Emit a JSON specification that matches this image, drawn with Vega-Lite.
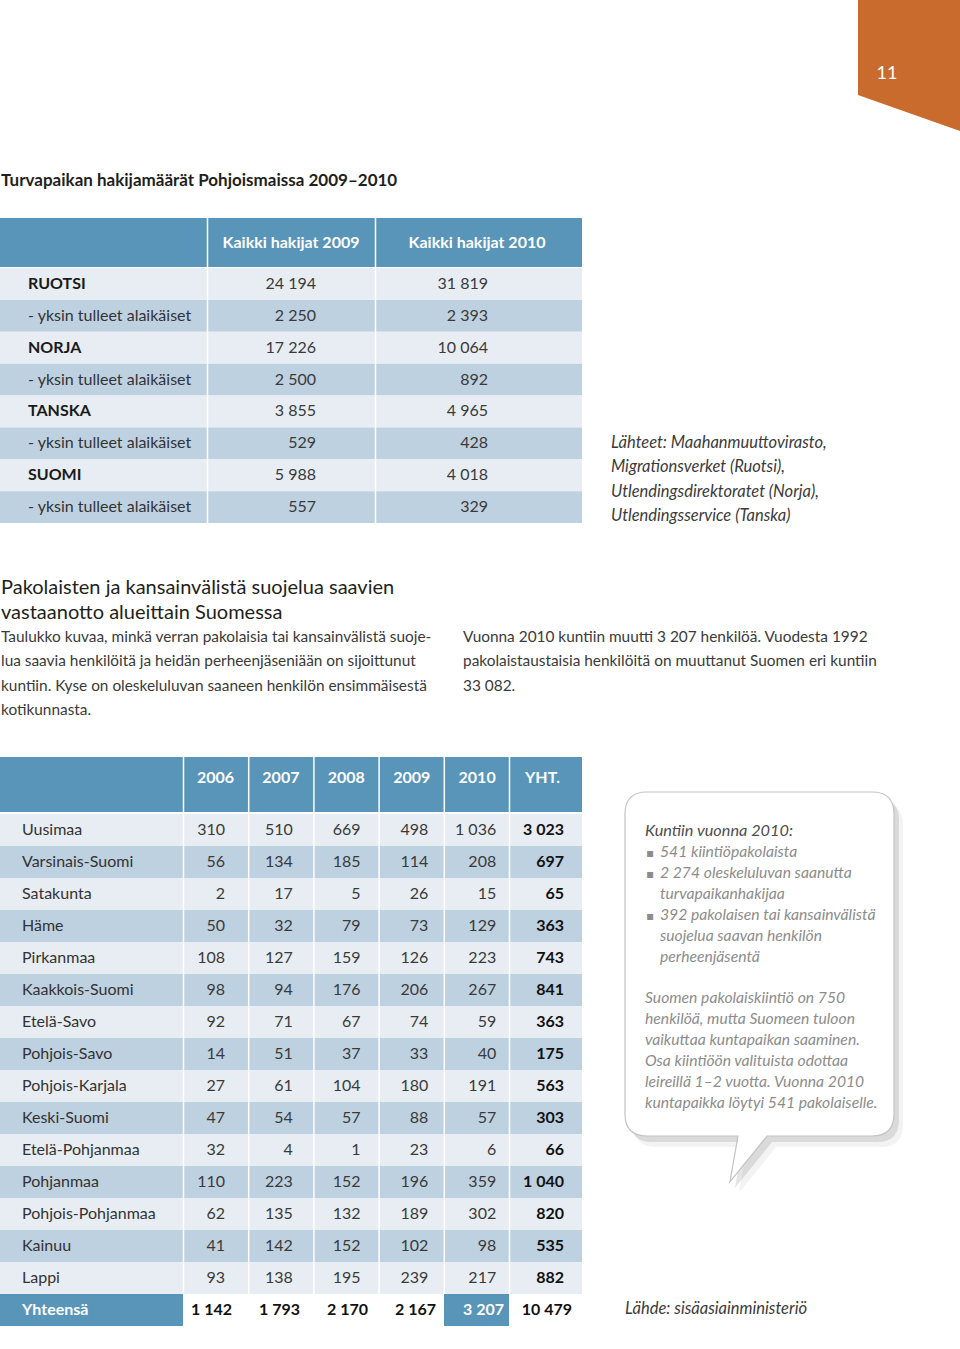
{
"$schema": "https://vega.github.io/schema/vega-lite/v6.json",
"width": 960, "height": 1349,
"autosize": {"type": "none"},
"padding": 0,
"background": "white",
"config": {"view": {"stroke": null}, "locale": {"number": {"decimal": ",", "thousands": " ", "grouping": [3], "currency": ["", " €"]}}},
"datasets": {
"sivu": [{"sivu": "11"}],
"taulukot": [{"taulukko": "Turvapaikan hakijat"}, {"taulukko": "Kuntiin muuttaneet"}],
"kupla": [{"osa": "kupla"}],
"tekstit": [
{"lohko": "otsikko", "teksti": "Turvapaikan hakijamäärät Pohjoismaissa 2009–2010"},
{"lohko": "lahteet", "teksti": "Lähteet: Maahanmuuttovirasto,\nMigrationsverket (Ruotsi),\nUtlendingsdirektoratet (Norja),\nUtlendingsservice (Tanska)"},
{"lohko": "valiotsikko", "teksti": "Pakolaisten ja kansainvälistä suojelua saavien\nvastaanotto alueittain Suomessa"},
{"lohko": "ingressi1", "teksti": "Taulukko kuvaa, minkä verran pakolaisia tai kansainvälistä suoje-\nlua saavia henkilöitä ja heidän perheenjäseniään on sijoittunut\nkuntiin. Kyse on oleskeluluvan saaneen henkilön ensimmäisestä\nkotikunnasta."},
{"lohko": "ingressi2", "teksti": "Vuonna 2010 kuntiin muutti 3 207 henkilöä. Vuodesta 1992\npakolaistaustaisia henkilöitä on muuttanut Suomen eri kuntiin\n33 082."},
{"lohko": "kupla_otsikko", "teksti": "Kuntiin vuonna 2010:"},
{"lohko": "kupla_merkit1", "teksti": "▪\n▪"},
{"lohko": "kupla_merkit2", "teksti": "▪"},
{"lohko": "kupla_lista", "teksti": "541 kiintiöpakolaista\n2 274 oleskeluluvan saanutta\nturvapaikanhakijaa\n392 pakolaisen tai kansainvälistä\nsuojelua saavan henkilön\n\u00a0perheenjäsentä"},
{"lohko": "kupla_teksti", "teksti": "Suomen pakolaiskiintiö on 750\nhenkilöä, mutta Suomeen tuloon\nvaikuttaa kuntapaikan saaminen.\nOsa kiintiöön valituista odottaa\nleireillä 1–2 vuotta. Vuonna 2010\nkuntapaikka löytyi 541 pakolaiselle."},
{"lohko": "lahde", "teksti": "Lähde: sisäasiainministeriö"}
],
"otsikot1": [{"vuosi": "2009", "otsikko": "Kaikki hakijat 2009"}, {"vuosi": "2010", "otsikko": "Kaikki hakijat 2010"}],
"taulukko1": [
{"rivi": "RUOTSI", "nimi": "RUOTSI", "ryhma": "kaikki", "2009": 24194, "2010": 31819},
{"rivi": "RUOTSI, yksin tulleet alaikäiset", "nimi": "- yksin tulleet alaikäiset", "ryhma": "alaikäiset", "2009": 2250, "2010": 2393},
{"rivi": "NORJA", "nimi": "NORJA", "ryhma": "kaikki", "2009": 17226, "2010": 10064},
{"rivi": "NORJA, yksin tulleet alaikäiset", "nimi": "- yksin tulleet alaikäiset", "ryhma": "alaikäiset", "2009": 2500, "2010": 892},
{"rivi": "TANSKA", "nimi": "TANSKA", "ryhma": "kaikki", "2009": 3855, "2010": 4965},
{"rivi": "TANSKA, yksin tulleet alaikäiset", "nimi": "- yksin tulleet alaikäiset", "ryhma": "alaikäiset", "2009": 529, "2010": 428},
{"rivi": "SUOMI", "nimi": "SUOMI", "ryhma": "kaikki", "2009": 5988, "2010": 4018},
{"rivi": "SUOMI, yksin tulleet alaikäiset", "nimi": "- yksin tulleet alaikäiset", "ryhma": "alaikäiset", "2009": 557, "2010": 329}
],
"sarakkeet2": [{"sarake": "2006", "otsikko": "2006"}, {"sarake": "2007", "otsikko": "2007"}, {"sarake": "2008", "otsikko": "2008"}, {"sarake": "2009", "otsikko": "2009"}, {"sarake": "2010", "otsikko": "2010"}, {"sarake": "YHT", "otsikko": "YHT."}],
"taulukko2": [
{"alue": "Uusimaa", "2006": 310, "2007": 510, "2008": 669, "2009": 498, "2010": 1036, "YHT": 3023},
{"alue": "Varsinais-Suomi", "2006": 56, "2007": 134, "2008": 185, "2009": 114, "2010": 208, "YHT": 697},
{"alue": "Satakunta", "2006": 2, "2007": 17, "2008": 5, "2009": 26, "2010": 15, "YHT": 65},
{"alue": "Häme", "2006": 50, "2007": 32, "2008": 79, "2009": 73, "2010": 129, "YHT": 363},
{"alue": "Pirkanmaa", "2006": 108, "2007": 127, "2008": 159, "2009": 126, "2010": 223, "YHT": 743},
{"alue": "Kaakkois-Suomi", "2006": 98, "2007": 94, "2008": 176, "2009": 206, "2010": 267, "YHT": 841},
{"alue": "Etelä-Savo", "2006": 92, "2007": 71, "2008": 67, "2009": 74, "2010": 59, "YHT": 363},
{"alue": "Pohjois-Savo", "2006": 14, "2007": 51, "2008": 37, "2009": 33, "2010": 40, "YHT": 175},
{"alue": "Pohjois-Karjala", "2006": 27, "2007": 61, "2008": 104, "2009": 180, "2010": 191, "YHT": 563},
{"alue": "Keski-Suomi", "2006": 47, "2007": 54, "2008": 57, "2009": 88, "2010": 57, "YHT": 303},
{"alue": "Etelä-Pohjanmaa", "2006": 32, "2007": 4, "2008": 1, "2009": 23, "2010": 6, "YHT": 66},
{"alue": "Pohjanmaa", "2006": 110, "2007": 223, "2008": 152, "2009": 196, "2010": 359, "YHT": 1040},
{"alue": "Pohjois-Pohjanmaa", "2006": 62, "2007": 135, "2008": 132, "2009": 189, "2010": 302, "YHT": 820},
{"alue": "Kainuu", "2006": 41, "2007": 142, "2008": 152, "2009": 102, "2010": 98, "YHT": 535},
{"alue": "Lappi", "2006": 93, "2007": 138, "2008": 195, "2009": 239, "2010": 217, "YHT": 882},
{"alue": "Yhteensä", "2006": 1142, "2007": 1793, "2008": 2170, "2009": 2167, "2010": 3207, "YHT": 10479}
]
},
"layer": [
{"data": {"name": "sivu"}, "mark": {"type": "point", "shape": "M-0.785,-1.1 L0.94,-1.1 L0.94,1.07 L-0.785,0.46 Z", "size": 16900, "filled": true, "opacity": 1, "color": "#c96b2c", "strokeWidth": 0},
 "encoding": {"x": {"field": "sivu", "type": "nominal", "scale": {"type": "point", "padding": 0, "range": [909, 909]}, "axis": null}, "y": {"field": "sivu", "type": "nominal", "scale": {"type": "point", "padding": 0, "range": [65, 65]}, "axis": null}}},
{"data": {"name": "sivu"}, "mark": {"type": "text", "font": "Lato", "fontSize": 18, "color": "white", "align": "center", "baseline": "alphabetic"},
 "encoding": {"x": {"field": "sivu", "type": "nominal", "scale": {"type": "point", "padding": 0, "range": [887, 887]}, "axis": null}, "y": {"field": "sivu", "type": "nominal", "scale": {"type": "point", "padding": 0, "range": [79, 79]}, "axis": null}, "text": {"field": "sivu"}}},

{"data": {"name": "tekstit"}, "transform": [{"filter": "datum.lohko === 'otsikko'"}], "mark": {"type": "text", "font": "Lato", "fontSize": 17, "fontWeight": "bold", "color": "#231f20", "align": "left", "baseline": "alphabetic"},
 "encoding": {"x": {"field": "lohko", "type": "nominal", "scale": {"type": "point", "padding": 0, "range": [1, 1]}, "axis": null}, "y": {"field": "lohko", "type": "nominal", "scale": {"type": "point", "padding": 0, "range": [186, 186]}, "axis": null}, "text": {"field": "teksti"}}},
{"data": {"name": "tekstit"}, "transform": [{"filter": "datum.lohko === 'lahteet'"}], "mark": {"type": "text", "font": "Lato", "fontSize": 16.5, "fontStyle": "italic", "color": "#3b3b3b", "align": "left", "baseline": "alphabetic", "lineBreak": "\n", "lineHeight": 24.4},
 "encoding": {"x": {"field": "lohko", "type": "nominal", "scale": {"type": "point", "padding": 0, "range": [611, 611]}, "axis": null}, "y": {"field": "lohko", "type": "nominal", "scale": {"type": "point", "padding": 0, "range": [448, 448]}, "axis": null}, "text": {"field": "teksti"}}},
{"data": {"name": "tekstit"}, "transform": [{"filter": "datum.lohko === 'valiotsikko'"}], "mark": {"type": "text", "font": "Lato", "fontSize": 20, "color": "#231f20", "align": "left", "baseline": "alphabetic", "lineBreak": "\n", "lineHeight": 24.5},
 "encoding": {"x": {"field": "lohko", "type": "nominal", "scale": {"type": "point", "padding": 0, "range": [1, 1]}, "axis": null}, "y": {"field": "lohko", "type": "nominal", "scale": {"type": "point", "padding": 0, "range": [594, 594]}, "axis": null}, "text": {"field": "teksti"}}},
{"data": {"name": "tekstit"}, "transform": [{"filter": "datum.lohko === 'ingressi1'"}], "mark": {"type": "text", "font": "Lato", "fontSize": 15.4, "color": "#3a3a3a", "align": "left", "baseline": "alphabetic", "lineBreak": "\n", "lineHeight": 24.4},
 "encoding": {"x": {"field": "lohko", "type": "nominal", "scale": {"type": "point", "padding": 0, "range": [1, 1]}, "axis": null}, "y": {"field": "lohko", "type": "nominal", "scale": {"type": "point", "padding": 0, "range": [642, 642]}, "axis": null}, "text": {"field": "teksti"}}},
{"data": {"name": "tekstit"}, "transform": [{"filter": "datum.lohko === 'ingressi2'"}], "mark": {"type": "text", "font": "Lato", "fontSize": 15.4, "color": "#3a3a3a", "align": "left", "baseline": "alphabetic", "lineBreak": "\n", "lineHeight": 24.4},
 "encoding": {"x": {"field": "lohko", "type": "nominal", "scale": {"type": "point", "padding": 0, "range": [463, 463]}, "axis": null}, "y": {"field": "lohko", "type": "nominal", "scale": {"type": "point", "padding": 0, "range": [642, 642]}, "axis": null}, "text": {"field": "teksti"}}},

{"data": {"name": "taulukot"}, "transform": [{"filter": "datum.taulukko === 'Turvapaikan hakijat'"}], "mark": {"type": "rect", "color": "#6b6b6b", "opacity": 0.07, "xOffset": 10, "yOffset": 12},
 "encoding": {"x": {"datum": 0, "type": "quantitative", "scale": {"domain": [0, 1], "range": [0, 582]}, "axis": null}, "x2": {"datum": 1}, "y": {"datum": 0, "type": "quantitative", "scale": {"domain": [0, 1], "range": [218, 523]}, "axis": null}, "y2": {"datum": 1}}},
{"data": {"name": "taulukot"}, "transform": [{"filter": "datum.taulukko === 'Turvapaikan hakijat'"}], "mark": {"type": "rect", "color": "#6b6b6b", "opacity": 0.14, "xOffset": 6, "yOffset": 8},
 "encoding": {"x": {"datum": 0, "type": "quantitative", "scale": {"domain": [0, 1], "range": [0, 582]}, "axis": null}, "x2": {"datum": 1}, "y": {"datum": 0, "type": "quantitative", "scale": {"domain": [0, 1], "range": [218, 523]}, "axis": null}, "y2": {"datum": 1}}},
{"data": {"name": "taulukot"}, "transform": [{"filter": "datum.taulukko === 'Turvapaikan hakijat'"}], "mark": {"type": "rect", "color": "#6b6b6b", "opacity": 0.22, "xOffset": 3, "yOffset": 4},
 "encoding": {"x": {"datum": 0, "type": "quantitative", "scale": {"domain": [0, 1], "range": [0, 582]}, "axis": null}, "x2": {"datum": 1}, "y": {"datum": 0, "type": "quantitative", "scale": {"domain": [0, 1], "range": [218, 523]}, "axis": null}, "y2": {"datum": 1}}},
{"data": {"name": "taulukot"}, "transform": [{"filter": "datum.taulukko === 'Turvapaikan hakijat'"}], "mark": {"type": "rect", "color": "white"},
 "encoding": {"x": {"datum": 0, "type": "quantitative", "scale": {"domain": [0, 1], "range": [0, 582]}, "axis": null}, "x2": {"datum": 1}, "y": {"datum": 0, "type": "quantitative", "scale": {"domain": [0, 1], "range": [218, 523]}, "axis": null}, "y2": {"datum": 1}}},
{"data": {"name": "taulukot"}, "transform": [{"filter": "datum.taulukko === 'Turvapaikan hakijat'"}], "mark": {"type": "rect", "color": "#5895b9"},
 "encoding": {"x": {"datum": 0, "type": "quantitative", "scale": {"domain": [0, 1], "range": [0, 582]}, "axis": null}, "x2": {"datum": 1}, "y": {"datum": 0, "type": "quantitative", "scale": {"domain": [0, 1], "range": [218, 267]}, "axis": null}, "y2": {"datum": 1}}},
{"data": {"name": "taulukko1"}, "mark": {"type": "rect"},
 "encoding": {"x": {"datum": 0, "type": "quantitative", "scale": {"domain": [0, 1], "range": [0, 582]}, "axis": null}, "x2": {"datum": 1},
  "y": {"field": "rivi", "type": "nominal", "scale": {"type": "band", "domain": ["RUOTSI", "RUOTSI, yksin tulleet alaikäiset", "NORJA", "NORJA, yksin tulleet alaikäiset", "TANSKA", "TANSKA, yksin tulleet alaikäiset", "SUOMI", "SUOMI, yksin tulleet alaikäiset"], "range": [268, 523], "paddingInner": 0, "paddingOuter": 0}, "axis": null},
  "color": {"field": "ryhma", "type": "nominal", "scale": {"domain": ["kaikki", "alaikäiset"], "range": ["#e7edf3", "#bed1e1"]}, "legend": null}}},
{"data": {"name": "otsikot1"}, "mark": {"type": "rule", "color": "white", "strokeWidth": 1.5},
 "encoding": {"x": {"field": "vuosi", "type": "nominal", "scale": {"type": "point", "padding": 0, "domain": ["2009", "2010"], "range": [207.5, 375.5]}, "axis": null},
  "y": {"datum": 0, "type": "quantitative", "scale": {"domain": [0, 1], "range": [218, 523]}, "axis": null}, "y2": {"datum": 1}}},
{"data": {"name": "otsikot1"}, "mark": {"type": "text", "font": "Lato", "fontSize": 16, "fontWeight": "bold", "color": "white", "align": "center", "baseline": "alphabetic"},
 "encoding": {"x": {"field": "vuosi", "type": "nominal", "scale": {"type": "point", "padding": 0, "domain": ["2009", "2010"], "range": [291, 477]}, "axis": null},
  "y": {"field": "vuosi", "type": "nominal", "scale": {"type": "point", "padding": 0, "range": [248, 248]}, "axis": null}, "text": {"field": "otsikko"}}},
{"data": {"name": "taulukko1"}, "transform": [{"filter": "datum.ryhma === 'kaikki'"}], "mark": {"type": "text", "font": "Lato", "fontSize": 16, "fontWeight": "bold", "color": "#1a1a1a", "align": "left", "baseline": "middle"},
 "encoding": {"x": {"field": "ryhma", "type": "nominal", "scale": {"type": "point", "padding": 0, "range": [28, 28]}, "axis": null},
  "y": {"field": "rivi", "type": "nominal", "scale": {"type": "band", "domain": ["RUOTSI", "RUOTSI, yksin tulleet alaikäiset", "NORJA", "NORJA, yksin tulleet alaikäiset", "TANSKA", "TANSKA, yksin tulleet alaikäiset", "SUOMI", "SUOMI, yksin tulleet alaikäiset"], "range": [268, 523], "paddingInner": 0, "paddingOuter": 0}, "axis": null},
  "text": {"field": "nimi"}}},
{"data": {"name": "taulukko1"}, "transform": [{"filter": "datum.ryhma === 'alaikäiset'"}], "mark": {"type": "text", "font": "Lato", "fontSize": 16, "color": "#333333", "align": "left", "baseline": "middle"},
 "encoding": {"x": {"field": "ryhma", "type": "nominal", "scale": {"type": "point", "padding": 0, "range": [28, 28]}, "axis": null},
  "y": {"field": "rivi", "type": "nominal", "scale": {"type": "band", "domain": ["RUOTSI", "RUOTSI, yksin tulleet alaikäiset", "NORJA", "NORJA, yksin tulleet alaikäiset", "TANSKA", "TANSKA, yksin tulleet alaikäiset", "SUOMI", "SUOMI, yksin tulleet alaikäiset"], "range": [268, 523], "paddingInner": 0, "paddingOuter": 0}, "axis": null},
  "text": {"field": "nimi"}}},
{"data": {"name": "taulukko1"}, "transform": [{"fold": ["2009", "2010"], "as": ["vuosi", "hakijat"]}], "mark": {"type": "text", "font": "Lato", "fontSize": 16, "color": "#3a3a3a", "align": "right", "baseline": "middle"},
 "encoding": {"x": {"field": "vuosi", "type": "nominal", "scale": {"type": "point", "padding": 0, "domain": ["2009", "2010"], "range": [316, 488]}, "axis": null},
  "y": {"field": "rivi", "type": "nominal", "scale": {"type": "band", "domain": ["RUOTSI", "RUOTSI, yksin tulleet alaikäiset", "NORJA", "NORJA, yksin tulleet alaikäiset", "TANSKA", "TANSKA, yksin tulleet alaikäiset", "SUOMI", "SUOMI, yksin tulleet alaikäiset"], "range": [268, 523], "paddingInner": 0, "paddingOuter": 0}, "axis": null},
  "text": {"field": "hakijat", "type": "quantitative", "format": ",d"}}},

{"data": {"name": "taulukot"}, "transform": [{"filter": "datum.taulukko === 'Kuntiin muuttaneet'"}], "mark": {"type": "rect", "color": "#6b6b6b", "opacity": 0.07, "xOffset": 10, "yOffset": 12},
 "encoding": {"x": {"datum": 0, "type": "quantitative", "scale": {"domain": [0, 1], "range": [0, 582]}, "axis": null}, "x2": {"datum": 1}, "y": {"datum": 0, "type": "quantitative", "scale": {"domain": [0, 1], "range": [757, 1326]}, "axis": null}, "y2": {"datum": 1}}},
{"data": {"name": "taulukot"}, "transform": [{"filter": "datum.taulukko === 'Kuntiin muuttaneet'"}], "mark": {"type": "rect", "color": "#6b6b6b", "opacity": 0.14, "xOffset": 6, "yOffset": 8},
 "encoding": {"x": {"datum": 0, "type": "quantitative", "scale": {"domain": [0, 1], "range": [0, 582]}, "axis": null}, "x2": {"datum": 1}, "y": {"datum": 0, "type": "quantitative", "scale": {"domain": [0, 1], "range": [757, 1326]}, "axis": null}, "y2": {"datum": 1}}},
{"data": {"name": "taulukot"}, "transform": [{"filter": "datum.taulukko === 'Kuntiin muuttaneet'"}], "mark": {"type": "rect", "color": "#6b6b6b", "opacity": 0.22, "xOffset": 3, "yOffset": 4},
 "encoding": {"x": {"datum": 0, "type": "quantitative", "scale": {"domain": [0, 1], "range": [0, 582]}, "axis": null}, "x2": {"datum": 1}, "y": {"datum": 0, "type": "quantitative", "scale": {"domain": [0, 1], "range": [757, 1326]}, "axis": null}, "y2": {"datum": 1}}},
{"data": {"name": "taulukot"}, "transform": [{"filter": "datum.taulukko === 'Kuntiin muuttaneet'"}], "mark": {"type": "rect", "color": "white"},
 "encoding": {"x": {"datum": 0, "type": "quantitative", "scale": {"domain": [0, 1], "range": [0, 582]}, "axis": null}, "x2": {"datum": 1}, "y": {"datum": 0, "type": "quantitative", "scale": {"domain": [0, 1], "range": [757, 1326]}, "axis": null}, "y2": {"datum": 1}}},
{"data": {"name": "taulukot"}, "transform": [{"filter": "datum.taulukko === 'Kuntiin muuttaneet'"}], "mark": {"type": "rect", "color": "#5895b9"},
 "encoding": {"x": {"datum": 0, "type": "quantitative", "scale": {"domain": [0, 1], "range": [0, 582]}, "axis": null}, "x2": {"datum": 1}, "y": {"datum": 0, "type": "quantitative", "scale": {"domain": [0, 1], "range": [757, 812]}, "axis": null}, "y2": {"datum": 1}}},
{"data": {"name": "taulukko2"}, "transform": [{"filter": "datum.alue !== 'Yhteensä'"}], "mark": {"type": "rect"},
 "encoding": {"x": {"datum": 0, "type": "quantitative", "scale": {"domain": [0, 1], "range": [0, 582]}, "axis": null}, "x2": {"datum": 1},
  "y": {"field": "alue", "type": "nominal", "scale": {"type": "band", "domain": ["Uusimaa", "Varsinais-Suomi", "Satakunta", "Häme", "Pirkanmaa", "Kaakkois-Suomi", "Etelä-Savo", "Pohjois-Savo", "Pohjois-Karjala", "Keski-Suomi", "Etelä-Pohjanmaa", "Pohjanmaa", "Pohjois-Pohjanmaa", "Kainuu", "Lappi", "Yhteensä"], "range": [814, 1326], "paddingInner": 0, "paddingOuter": 0}, "axis": null},
  "color": {"field": "alue", "type": "nominal", "scale": {"domain": ["Uusimaa", "Varsinais-Suomi", "Satakunta", "Häme", "Pirkanmaa", "Kaakkois-Suomi", "Etelä-Savo", "Pohjois-Savo", "Pohjois-Karjala", "Keski-Suomi", "Etelä-Pohjanmaa", "Pohjanmaa", "Pohjois-Pohjanmaa", "Kainuu", "Lappi"], "range": ["#e7edf3", "#bed1e1", "#e7edf3", "#bed1e1", "#e7edf3", "#bed1e1", "#e7edf3", "#bed1e1", "#e7edf3", "#bed1e1", "#e7edf3", "#bed1e1", "#e7edf3", "#bed1e1", "#e7edf3"]}, "legend": null}}},
{"data": {"name": "taulukko2"}, "transform": [{"filter": "datum.alue === 'Yhteensä'"}], "mark": {"type": "rect", "color": "#5895b9"},
 "encoding": {"x": {"field": "alue", "type": "nominal", "scale": {"type": "band", "paddingInner": 0, "paddingOuter": 0, "range": [0, 183]}, "axis": null},
  "y": {"field": "alue", "type": "nominal", "scale": {"type": "band", "domain": ["Uusimaa", "Varsinais-Suomi", "Satakunta", "Häme", "Pirkanmaa", "Kaakkois-Suomi", "Etelä-Savo", "Pohjois-Savo", "Pohjois-Karjala", "Keski-Suomi", "Etelä-Pohjanmaa", "Pohjanmaa", "Pohjois-Pohjanmaa", "Kainuu", "Lappi", "Yhteensä"], "range": [814, 1326], "paddingInner": 0, "paddingOuter": 0}, "axis": null}}},
{"data": {"name": "taulukko2"}, "transform": [{"filter": "datum.alue === 'Yhteensä'"}, {"fold": ["2010"], "as": ["vuosi", "muuttaneet"]}], "mark": {"type": "rect", "color": "#5895b9"},
 "encoding": {"x": {"field": "vuosi", "type": "nominal", "scale": {"type": "band", "paddingInner": 0, "paddingOuter": 0, "domain": ["2010"], "range": [444, 509]}, "axis": null},
  "y": {"field": "alue", "type": "nominal", "scale": {"type": "band", "domain": ["Uusimaa", "Varsinais-Suomi", "Satakunta", "Häme", "Pirkanmaa", "Kaakkois-Suomi", "Etelä-Savo", "Pohjois-Savo", "Pohjois-Karjala", "Keski-Suomi", "Etelä-Pohjanmaa", "Pohjanmaa", "Pohjois-Pohjanmaa", "Kainuu", "Lappi", "Yhteensä"], "range": [814, 1326], "paddingInner": 0, "paddingOuter": 0}, "axis": null}}},
{"data": {"name": "sarakkeet2"}, "mark": {"type": "rule", "color": "white", "strokeWidth": 1.5},
 "encoding": {"x": {"field": "sarake", "type": "nominal", "scale": {"type": "point", "padding": 0, "domain": ["2006", "2007", "2008", "2009", "2010", "YHT"], "range": [183.5, 509.5]}, "axis": null},
  "y": {"datum": 0, "type": "quantitative", "scale": {"domain": [0, 1], "range": [757, 1294]}, "axis": null}, "y2": {"datum": 1}}},
{"data": {"name": "sarakkeet2"}, "mark": {"type": "text", "font": "Lato", "fontSize": 16, "fontWeight": "bold", "color": "white", "align": "center", "baseline": "alphabetic"},
 "encoding": {"x": {"field": "sarake", "type": "nominal", "scale": {"type": "point", "padding": 0, "domain": ["2006", "2007", "2008", "2009", "2010", "YHT"], "range": [215.5, 542.5]}, "axis": null},
  "y": {"field": "sarake", "type": "nominal", "scale": {"type": "point", "padding": 0, "range": [783, 783]}, "axis": null}, "text": {"field": "otsikko"}}},
{"data": {"name": "taulukko2"}, "transform": [{"filter": "datum.alue !== 'Yhteensä'"}], "mark": {"type": "text", "font": "Lato", "fontSize": 16, "color": "#333333", "align": "left", "baseline": "middle"},
 "encoding": {"x": {"field": "alue", "type": "nominal", "scale": {"type": "point", "padding": 0, "range": [22, 22]}, "axis": null},
  "y": {"field": "alue", "type": "nominal", "scale": {"type": "band", "domain": ["Uusimaa", "Varsinais-Suomi", "Satakunta", "Häme", "Pirkanmaa", "Kaakkois-Suomi", "Etelä-Savo", "Pohjois-Savo", "Pohjois-Karjala", "Keski-Suomi", "Etelä-Pohjanmaa", "Pohjanmaa", "Pohjois-Pohjanmaa", "Kainuu", "Lappi", "Yhteensä"], "range": [814, 1326], "paddingInner": 0, "paddingOuter": 0}, "axis": null},
  "text": {"field": "alue"}}},
{"data": {"name": "taulukko2"}, "transform": [{"filter": "datum.alue === 'Yhteensä'"}], "mark": {"type": "text", "font": "Lato", "fontSize": 16, "fontWeight": "bold", "color": "white", "align": "left", "baseline": "middle"},
 "encoding": {"x": {"field": "alue", "type": "nominal", "scale": {"type": "point", "padding": 0, "range": [22, 22]}, "axis": null},
  "y": {"field": "alue", "type": "nominal", "scale": {"type": "band", "domain": ["Uusimaa", "Varsinais-Suomi", "Satakunta", "Häme", "Pirkanmaa", "Kaakkois-Suomi", "Etelä-Savo", "Pohjois-Savo", "Pohjois-Karjala", "Keski-Suomi", "Etelä-Pohjanmaa", "Pohjanmaa", "Pohjois-Pohjanmaa", "Kainuu", "Lappi", "Yhteensä"], "range": [814, 1326], "paddingInner": 0, "paddingOuter": 0}, "axis": null},
  "text": {"field": "alue"}}},
{"data": {"name": "taulukko2"}, "transform": [{"filter": "datum.alue !== 'Yhteensä'"}, {"fold": ["2006", "2007", "2008", "2009", "2010"], "as": ["vuosi", "muuttaneet"]}], "mark": {"type": "text", "font": "Lato", "fontSize": 16, "color": "#3a3a3a", "align": "right", "baseline": "middle"},
 "encoding": {"x": {"field": "vuosi", "type": "nominal", "scale": {"type": "point", "padding": 0, "domain": ["2006", "2007", "2008", "2009", "2010", "YHT"], "range": [225, 564]}, "axis": null},
  "y": {"field": "alue", "type": "nominal", "scale": {"type": "band", "domain": ["Uusimaa", "Varsinais-Suomi", "Satakunta", "Häme", "Pirkanmaa", "Kaakkois-Suomi", "Etelä-Savo", "Pohjois-Savo", "Pohjois-Karjala", "Keski-Suomi", "Etelä-Pohjanmaa", "Pohjanmaa", "Pohjois-Pohjanmaa", "Kainuu", "Lappi", "Yhteensä"], "range": [814, 1326], "paddingInner": 0, "paddingOuter": 0}, "axis": null},
  "text": {"field": "muuttaneet", "type": "quantitative", "format": ",d"}}},
{"data": {"name": "taulukko2"}, "transform": [{"filter": "datum.alue !== 'Yhteensä'"}, {"fold": ["YHT"], "as": ["vuosi", "muuttaneet"]}], "mark": {"type": "text", "font": "Lato", "fontSize": 16, "fontWeight": "bold", "color": "#111111", "align": "right", "baseline": "middle"},
 "encoding": {"x": {"field": "vuosi", "type": "nominal", "scale": {"type": "point", "padding": 0, "domain": ["2006", "2007", "2008", "2009", "2010", "YHT"], "range": [225, 564]}, "axis": null},
  "y": {"field": "alue", "type": "nominal", "scale": {"type": "band", "domain": ["Uusimaa", "Varsinais-Suomi", "Satakunta", "Häme", "Pirkanmaa", "Kaakkois-Suomi", "Etelä-Savo", "Pohjois-Savo", "Pohjois-Karjala", "Keski-Suomi", "Etelä-Pohjanmaa", "Pohjanmaa", "Pohjois-Pohjanmaa", "Kainuu", "Lappi", "Yhteensä"], "range": [814, 1326], "paddingInner": 0, "paddingOuter": 0}, "axis": null},
  "text": {"field": "muuttaneet", "type": "quantitative", "format": ",d"}}},
{"data": {"name": "taulukko2"}, "transform": [{"filter": "datum.alue === 'Yhteensä'"}, {"fold": ["2006", "2007", "2008", "2009", "2010", "YHT"], "as": ["vuosi", "muuttaneet"]}], "mark": {"type": "text", "font": "Lato", "fontSize": 16, "fontWeight": "bold", "align": "right", "baseline": "middle"},
 "encoding": {"x": {"field": "vuosi", "type": "nominal", "scale": {"type": "point", "padding": 0, "domain": ["2006", "2007", "2008", "2009", "2010", "YHT"], "range": [232, 572]}, "axis": null},
  "y": {"field": "alue", "type": "nominal", "scale": {"type": "band", "domain": ["Uusimaa", "Varsinais-Suomi", "Satakunta", "Häme", "Pirkanmaa", "Kaakkois-Suomi", "Etelä-Savo", "Pohjois-Savo", "Pohjois-Karjala", "Keski-Suomi", "Etelä-Pohjanmaa", "Pohjanmaa", "Pohjois-Pohjanmaa", "Kainuu", "Lappi", "Yhteensä"], "range": [814, 1326], "paddingInner": 0, "paddingOuter": 0}, "axis": null},
  "color": {"condition": {"test": "datum.vuosi === '2010'", "value": "white"}, "value": "#111111"},
  "text": {"field": "muuttaneet", "type": "quantitative", "format": ",d"}}},

{"data": {"name": "kupla"}, "mark": {"type": "point", "shape": "M-0.654,-1 L0.654,-1 Q0.782,-1 0.782,-0.872 L0.782,0.872 Q0.782,1 0.654,1 L0.044,1 L-0.172,1.267 L-0.125,1 L-0.654,1 Q-0.782,1 -0.782,0.872 L-0.782,-0.872 Q-0.782,-1 -0.654,-1 Z", "size": 118336, "filled": true, "opacity": 0.08, "color": "#6b6b6b", "strokeWidth": 0, "xOffset": 9, "yOffset": 11},
 "encoding": {"x": {"field": "osa", "type": "nominal", "scale": {"type": "point", "padding": 0, "range": [759.5, 759.5]}, "axis": null}, "y": {"field": "osa", "type": "nominal", "scale": {"type": "point", "padding": 0, "range": [964, 964]}, "axis": null}}},
{"data": {"name": "kupla"}, "mark": {"type": "point", "shape": "M-0.654,-1 L0.654,-1 Q0.782,-1 0.782,-0.872 L0.782,0.872 Q0.782,1 0.654,1 L0.044,1 L-0.172,1.267 L-0.125,1 L-0.654,1 Q-0.782,1 -0.782,0.872 L-0.782,-0.872 Q-0.782,-1 -0.654,-1 Z", "size": 118336, "filled": true, "opacity": 0.18, "color": "#6b6b6b", "strokeWidth": 0, "xOffset": 5, "yOffset": 6},
 "encoding": {"x": {"field": "osa", "type": "nominal", "scale": {"type": "point", "padding": 0, "range": [759.5, 759.5]}, "axis": null}, "y": {"field": "osa", "type": "nominal", "scale": {"type": "point", "padding": 0, "range": [964, 964]}, "axis": null}}},
{"data": {"name": "kupla"}, "mark": {"type": "point", "shape": "M-0.654,-1 L0.654,-1 Q0.782,-1 0.782,-0.872 L0.782,0.872 Q0.782,1 0.654,1 L0.044,1 L-0.172,1.267 L-0.125,1 L-0.654,1 Q-0.782,1 -0.782,0.872 L-0.782,-0.872 Q-0.782,-1 -0.654,-1 Z", "size": 118336, "filled": true, "opacity": 1, "fill": "white", "stroke": "#c3c3c3", "strokeWidth": 1.2},
 "encoding": {"x": {"field": "osa", "type": "nominal", "scale": {"type": "point", "padding": 0, "range": [759.5, 759.5]}, "axis": null}, "y": {"field": "osa", "type": "nominal", "scale": {"type": "point", "padding": 0, "range": [964, 964]}, "axis": null}}},
{"data": {"name": "tekstit"}, "transform": [{"filter": "datum.lohko === 'kupla_otsikko'"}], "mark": {"type": "text", "font": "Lato", "fontSize": 16.3, "fontStyle": "italic", "color": "#4d4d4d", "align": "left", "baseline": "alphabetic"},
 "encoding": {"x": {"field": "lohko", "type": "nominal", "scale": {"type": "point", "padding": 0, "range": [645, 645]}, "axis": null}, "y": {"field": "lohko", "type": "nominal", "scale": {"type": "point", "padding": 0, "range": [836, 836]}, "axis": null}, "text": {"field": "teksti"}}},
{"data": {"name": "tekstit"}, "transform": [{"filter": "datum.lohko === 'kupla_merkit1'"}], "mark": {"type": "text", "font": "DejaVu Sans", "fontSize": 12, "color": "#8c8c8c", "align": "left", "baseline": "alphabetic", "lineBreak": "\n", "lineHeight": 21},
 "encoding": {"x": {"field": "lohko", "type": "nominal", "scale": {"type": "point", "padding": 0, "range": [646, 646]}, "axis": null}, "y": {"field": "lohko", "type": "nominal", "scale": {"type": "point", "padding": 0, "range": [857, 857]}, "axis": null}, "text": {"field": "teksti"}}},
{"data": {"name": "tekstit"}, "transform": [{"filter": "datum.lohko === 'kupla_merkit2'"}], "mark": {"type": "text", "font": "DejaVu Sans", "fontSize": 12, "color": "#8c8c8c", "align": "left", "baseline": "alphabetic"},
 "encoding": {"x": {"field": "lohko", "type": "nominal", "scale": {"type": "point", "padding": 0, "range": [646, 646]}, "axis": null}, "y": {"field": "lohko", "type": "nominal", "scale": {"type": "point", "padding": 0, "range": [920, 920]}, "axis": null}, "text": {"field": "teksti"}}},
{"data": {"name": "tekstit"}, "transform": [{"filter": "datum.lohko === 'kupla_lista'"}], "mark": {"type": "text", "font": "Lato", "fontSize": 15.7, "fontStyle": "italic", "color": "#8c8c8c", "align": "left", "baseline": "alphabetic", "lineBreak": "\n", "lineHeight": 21},
 "encoding": {"x": {"field": "lohko", "type": "nominal", "scale": {"type": "point", "padding": 0, "range": [660, 660]}, "axis": null}, "y": {"field": "lohko", "type": "nominal", "scale": {"type": "point", "padding": 0, "range": [857, 857]}, "axis": null}, "text": {"field": "teksti"}}},
{"data": {"name": "tekstit"}, "transform": [{"filter": "datum.lohko === 'kupla_teksti'"}], "mark": {"type": "text", "font": "Lato", "fontSize": 15.7, "fontStyle": "italic", "color": "#8c8c8c", "align": "left", "baseline": "alphabetic", "lineBreak": "\n", "lineHeight": 21},
 "encoding": {"x": {"field": "lohko", "type": "nominal", "scale": {"type": "point", "padding": 0, "range": [645, 645]}, "axis": null}, "y": {"field": "lohko", "type": "nominal", "scale": {"type": "point", "padding": 0, "range": [1003, 1003]}, "axis": null}, "text": {"field": "teksti"}}},
{"data": {"name": "tekstit"}, "transform": [{"filter": "datum.lohko === 'lahde'"}], "mark": {"type": "text", "font": "Lato", "fontSize": 16.5, "fontStyle": "italic", "color": "#3b3b3b", "align": "left", "baseline": "alphabetic"},
 "encoding": {"x": {"field": "lohko", "type": "nominal", "scale": {"type": "point", "padding": 0, "range": [625, 625]}, "axis": null}, "y": {"field": "lohko", "type": "nominal", "scale": {"type": "point", "padding": 0, "range": [1314, 1314]}, "axis": null}, "text": {"field": "teksti"}}}
],
"resolve": {"scale": {"x": "independent", "y": "independent", "color": "independent"}}
}
